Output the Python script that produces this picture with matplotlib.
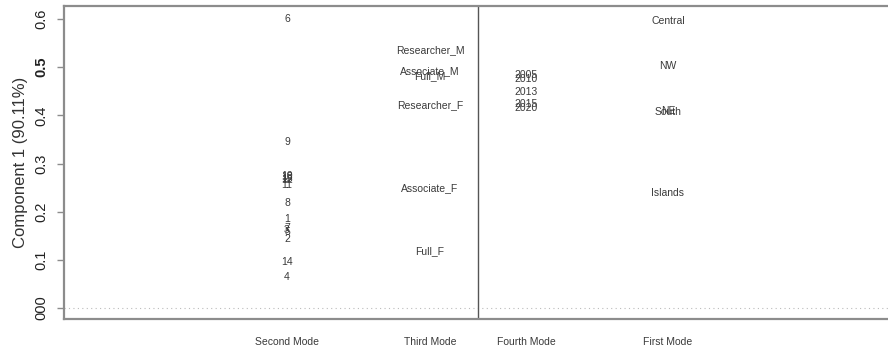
import matplotlib
matplotlib.use("Agg")
import matplotlib.pyplot as plt

# Mode categories along the horizontal axis
modes = ["Second Mode", "Third Mode", "Fourth Mode", "First Mode"]
mode_x = [1.624, 2.665, 3.364, 4.398]

# Second mode: individual units
second_labels = ["6", "9", "10", "13", "15", "12", "11", "8", "1", "7", "3", "5", "2", "14", "4"]
second_vals = [0.600, 0.345, 0.274, 0.272, 0.268, 0.266, 0.255, 0.218, 0.185, 0.166, 0.162, 0.158, 0.143, 0.095, 0.064]

# Third mode: position by gender
third_labels = ["Researcher_M", "Associate_M", "Full_M", "Researcher_F", "Associate_F", "Full_F"]
third_vals = [0.536, 0.492, 0.482, 0.421, 0.249, 0.118]

# Fourth mode: years
fourth_labels = ["2005", "2010", "2013", "2015", "2020"]
fourth_vals = [0.484, 0.475, 0.448, 0.424, 0.415]

# First mode: regions
first_labels = ["Central", "NW", "South", "NE", "Islands"]
first_vals = [0.596, 0.502, 0.407, 0.409, 0.239]

yticks = [0.0, 0.1, 0.2, 0.3, 0.4, 0.5, 0.6]
yticklabels = ["000", "0.1", "0.2", "0.3", "0.4", "0.5", "0.6"]

fig = plt.figure(figsize=(8.88, 3.5), dpi=100)
ax = fig.add_axes([64 / 888, 1 - 319 / 350, 824 / 888, (319 - 6) / 350])

label_font = ["Liberation Sans Narrow", "Liberation Sans", "DejaVu Sans"]
axis_font = ["Liberation Sans", "DejaVu Sans"]
txt_color = "#3a3a3a"

groups = [
    (second_labels, second_vals),
    (third_labels, third_vals),
    (fourth_labels, fourth_vals),
    (first_labels, first_vals),
]
for x, (labs, vals) in zip(mode_x, groups):
    for lab, v in zip(labs, vals):
        ax.text(x, v, lab, ha="center", va="center", fontsize=7.5,
                family=label_font, color=txt_color)

ax.set_xlim(0, 6)
ax.set_ylim(-0.0228, 0.627)

# zero reference and separator between mode groups
ax.axhline(0, color="#bbbbbb", lw=0.8, ls=(0, (1, 3)))
ax.axvline((mode_x[1] + mode_x[2]) / 2, color="#555555", lw=1.0)

for side in ["top", "bottom", "left"]:
    ax.spines[side].set_color("#8c8c8c")
    ax.spines[side].set_linewidth(1.6)
ax.spines["right"].set_visible(False)

ax.set_xticks(mode_x)
ax.set_xticklabels(modes, family=label_font, fontsize=7.5, color=txt_color)
ax.tick_params(axis="x", length=0, pad=13)

ax.set_yticks(yticks)
ax.set_yticklabels(yticklabels, rotation=90, va="center", fontsize=10.5,
                   family=axis_font, color="#222222")
for t in ax.get_yticklabels():
    if t.get_text() == "0.5":
        t.set_fontweight("bold")
ax.tick_params(axis="y", length=5, width=1.0, color="#8c8c8c", pad=6)

ax.set_ylabel("Component 1 (90.11%)", fontsize=12, family=axis_font,
              color="#333333", labelpad=5)

fig.savefig("out.png", dpi=100)
